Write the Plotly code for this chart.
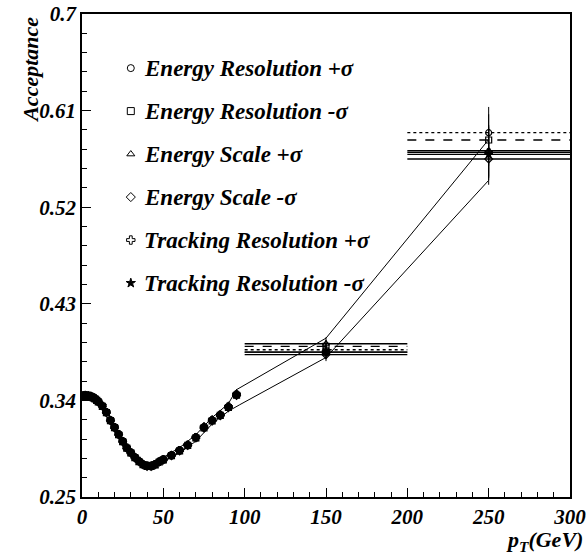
import plotly.graph_objects as go

# transverse-momentum bins of the low-pT scan
pt = [1, 2, 3, 4, 5, 6, 7, 8, 9, 10, 12.5, 15, 17.5, 20, 22.5, 25, 27.5, 30, 32.5, 35,
      37.5, 40, 42.5, 45, 47.5, 50, 55, 60, 65, 70, 75, 80, 85, 90, 95]
pt_err = [0.5, 0.5, 0.5, 0.5, 0.5, 0.5, 0.5, 0.5, 0.5, 0.5, 1.25, 1.25, 1.25, 1.25, 1.25,
          1.25, 1.25, 1.25, 1.25, 1.25, 1.25, 1.25, 1.25, 1.25, 1.25, 1.25, 2.5, 2.5, 2.5,
          2.5, 2.5, 2.5, 2.5, 2.5, 2.5]
acc_err = [0.0015, 0.0015, 0.0015, 0.0015, 0.0015, 0.0015, 0.0015, 0.0015, 0.0015, 0.0015,
           0.002, 0.002, 0.0025, 0.0025, 0.0025, 0.0025, 0.0025, 0.0025, 0.0025, 0.0025,
           0.0025, 0.0025, 0.0025, 0.0025, 0.0025, 0.0025, 0.003, 0.003, 0.003, 0.003,
           0.004, 0.004, 0.004, 0.004, 0.004]

er_plus = [.3452, .3450, .3449, .3446, .3444, .3437, .3431, .3420, .3409, .3393, .3354, .3293,
           .3219, .3153, .3090, .3024, .2963, .2919, .2874, .2839, .2808, .2794, .2793, .2809,
           .2834, .2855, .2893, .2940, .2989, .3060, .3156, .3220, .3270, .3346, .3462]
er_minus = [.3440, .3443, .3441, .3439, .3436, .3430, .3424, .3413, .3401, .3386, .3345, .3286,
            .3211, .3146, .3080, .3016, .2956, .2911, .2866, .2830, .2801, .2786, .2786, .2800,
            .2826, .2846, .2886, .2930, .2981, .3050, .3144, .3210, .3260, .3334, .3448]
es_plus = [.3448, .3451, .3447, .3445, .3443, .3439, .3430, .3421, .3407, .3392, .3352, .3294,
           .3218, .3155, .3088, .3023, .2962, .2918, .2872, .2838, .2807, .2792, .2793, .2807,
           .2833, .2853, .2894, .2938, .2990, .3061, .3158, .3222, .3271, .3348, .3465]
es_minus = [.3438, .3441, .3440, .3438, .3434, .3431, .3423, .3414, .3400, .3385, .3346, .3285,
            .3210, .3144, .3081, .3015, .2955, .2910, .2865, .2831, .2800, .2785, .2785, .2801,
            .2825, .2845, .2885, .2929, .2980, .3049, .3143, .3208, .3258, .3332, .3446]
tr_plus = [.3446, .3446, .3444, .3442, .3441, .3434, .3427, .3417, .3404, .3389, .3349, .3291,
           .3214, .3151, .3084, .3021, .2959, .2916, .2869, .2836, .2804, .2791, .2789, .2806,
           .2829, .2851, .2889, .2936, .2984, .3056, .3149, .3216, .3264, .3341, .3454]
tr_minus = [.3444, .3448, .3444, .3444, .3439, .3436, .3427, .3419, .3406, .3391, .3351, .3289,
            .3216, .3149, .3086, .3019, .2961, .2914, .2871, .2834, .2806, .2789, .2791, .2804,
            .2831, .2849, .2891, .2934, .2986, .3054, .3151, .3214, .3266, .3339, .3456]

# wide high-pT bins: centres, half widths, acceptance and its error per variation
pt_hi = [150, 250]
pt_hi_halfwidth = [50, 50]
acc_hi_err = [0.006, 0.024]
er_plus_hi = [0.3872, 0.5894]
er_minus_hi = [0.3903, 0.5826]
es_plus_hi = [0.3928, 0.5726]
es_minus_hi = [0.3826, 0.5649]
tr_plus_hi = [0.3850, 0.5711]
tr_minus_hi = [0.3850, 0.5692]

# envelope of the variations
band_pt_upper = [1, 10, 20, 30, 40, 50, 60, 70, 80, 90, 95, 150, 250]
band_upper = [.3465, .3410, .3170, .2935, .2810, .2870, .2960, .3080, .3240, .3370, .3500, .3980, .5830]
band_pt_lower = [1, 10, 20, 30, 40, 50, 60, 70, 80, 90, 97, 150, 250]
band_lower = [.3425, .3370, .3130, .2895, .2770, .2830, .2910, .3020, .3180, .3300, .3360, .3800, .5450]

# axis ticks
x_ticks = [0, 50, 100, 150, 200, 250, 300]
y_ticks = [0.25, 0.34, 0.43, 0.52, 0.61, 0.7]
y_tick_text = ["0.25", "0.34", "0.43", "0.52", "0.61", "0.7"]

labels = ["Energy Resolution +σ", "Energy Resolution -σ", "Energy Scale +σ",
          "Energy Scale -σ", "Tracking Resolution +σ", "Tracking Resolution -σ"]
symbols = ["circle-open", "square-open", "triangle-up-open", "diamond-open", "cross-open", "star"]
bin_dashes = ["dot", "dash", "solid", "solid", "solid", "solid"]
low_sets = [er_plus, er_minus, es_plus, es_minus, tr_plus, tr_minus]
high_sets = [er_plus_hi, er_minus_hi, es_plus_hi, es_minus_hi, tr_plus_hi, tr_minus_hi]

FONT = "Liberation Serif"


def bi(s):
    return "<b><i>" + s + "</i></b>"


fig = go.Figure()

# envelope lines
fig.add_trace(go.Scatter(x=band_pt_upper, y=band_upper, mode="lines",
                         line=dict(color="black", width=1), showlegend=False, hoverinfo="skip"))
fig.add_trace(go.Scatter(x=band_pt_lower, y=band_lower, mode="lines",
                         line=dict(color="black", width=1), showlegend=False, hoverinfo="skip"))

# horizontal bin-width lines for the wide bins
for vals, dash in zip(high_sets, bin_dashes):
    for xc, hw, v in zip(pt_hi, pt_hi_halfwidth, vals):
        fig.add_trace(go.Scatter(x=[xc - hw, xc + hw], y=[v, v], mode="lines",
                                 line=dict(color="black", width=1.3, dash=dash),
                                 showlegend=False, hoverinfo="skip"))

# measured points
for name, sym, lo, hi in zip(labels, symbols, low_sets, high_sets):
    mk = dict(symbol=sym, size=6, color="black", line=dict(color="black", width=1.2))
    fig.add_trace(go.Scatter(
        x=pt, y=lo, mode="markers", name=name, marker=mk, showlegend=False,
        error_x=dict(type="data", array=pt_err, color="black", thickness=1, width=0),
        error_y=dict(type="data", array=acc_err, color="black", thickness=1, width=0)))
    fig.add_trace(go.Scatter(
        x=pt_hi, y=hi, mode="markers", name=name, marker=mk, showlegend=False,
        error_y=dict(type="data", array=acc_hi_err, color="black", thickness=1, width=0)))

# legend keys on an overlay frame spanning the plot area
row_y = [0.888, 0.799, 0.710, 0.621, 0.532, 0.443]
key_x = 0.100
for name, sym, yy in zip(labels, symbols, row_y):
    fig.add_trace(go.Scatter(x=[key_x], y=[yy], xaxis="x2", yaxis="y2", mode="markers",
                             marker=dict(symbol=sym, size=7, color="black",
                                         line=dict(color="black", width=1)),
                             showlegend=False, hoverinfo="skip"))

tick_font = dict(family=FONT, size=21, color="black")
annotations = []
for name, yy in zip(labels, row_y):
    annotations.append(dict(x=0.122, y=yy, xref="paper", yref="paper", text=bi(name),
                            showarrow=False, xanchor="left", yanchor="middle",
                            font=dict(family=FONT, size=23, color="black")))
annotations.append(dict(x=-0.107, y=0.884, xref="paper", yref="paper", text=bi("Acceptance"),
                        textangle=-90, showarrow=False, xanchor="center", yanchor="middle",
                        font=dict(family=FONT, size=22, color="black")))
annotations.append(dict(x=1.031, y=-0.058, xref="paper", yref="paper",
                        text=bi("p<sub>T</sub>(GeV)"), showarrow=False,
                        xanchor="right", yanchor="top",
                        font=dict(family=FONT, size=22, color="black")))

fig.update_layout(
    width=587, height=559,
    margin=dict(l=82, r=17, t=14, b=62, autoexpand=False),
    paper_bgcolor="white", plot_bgcolor="white",
    showlegend=False,
    annotations=annotations,
    xaxis=dict(range=[0, 300], tickvals=x_ticks, ticktext=[bi(str(v)) for v in x_ticks],
               ticks="inside", ticklen=9, automargin=False,
               tickwidth=1.2, tickcolor="black", showline=True, mirror=True,
               linecolor="black", linewidth=1.5, showgrid=False, zeroline=False,
               tickfont=tick_font,
               minor=dict(ticks="inside", ticklen=5, dtick=10, tick0=0, tickcolor="black",
                          tickwidth=1, showgrid=False)),
    yaxis=dict(range=[0.25, 0.7], tickvals=y_ticks, ticktext=[bi(t) for t in y_tick_text],
               ticks="inside", ticklen=9, tickwidth=1.2, tickcolor="black", automargin=False,
               showline=True, mirror=True, linecolor="black", linewidth=1.5,
               showgrid=False, zeroline=False, tickfont=tick_font,
               minor=dict(ticks="inside", ticklen=5, dtick=0.018, tick0=0.25,
                          tickcolor="black", tickwidth=1, showgrid=False)),
    xaxis2=dict(range=[0, 1], overlaying="x", visible=False),
    yaxis2=dict(range=[0, 1], overlaying="y", visible=False),
)

fig.write_html("out.html")
